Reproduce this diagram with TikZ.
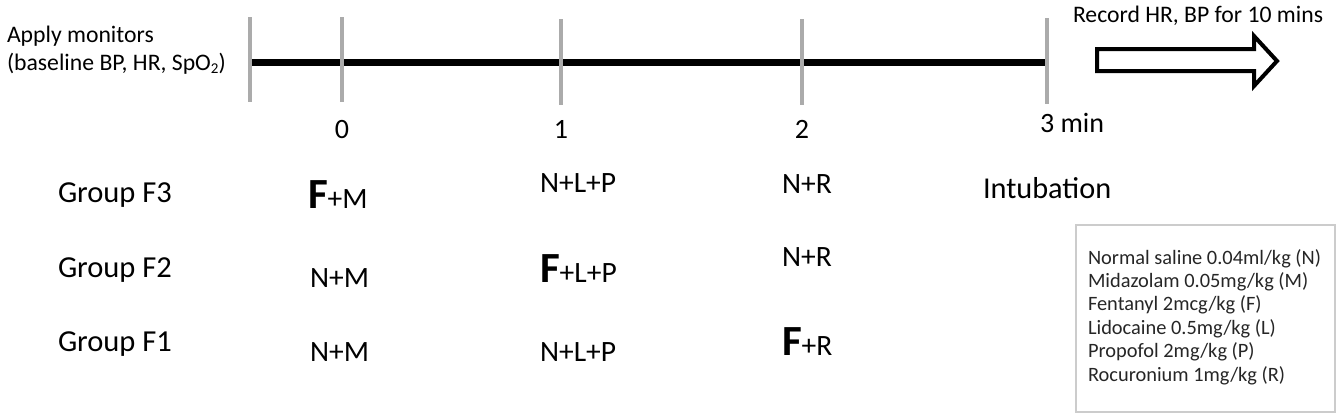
\documentclass[tikz,border=0pt]{standalone}
\usepackage{fontspec}
\setmainfont{Carlito}
\begin{document}
\begin{tikzpicture}[x=1pt,y=-1pt,
  txt/.style={inner sep=0pt, outer sep=0pt, anchor=base west, text=black},
  small/.style={txt, font=\fontsize{23.7}{28}\selectfont},
  digit/.style={txt, font=\fontsize{28}{32}\selectfont},
  big/.style={txt, font=\fontsize{30.5}{34}\selectfont},
  drug/.style={txt, font=\fontsize{29.5}{34}\selectfont},
  boldF/.style={txt, font=\bfseries\fontsize{43}{46}\selectfont},
  legtxt/.style={txt, font=\fontsize{20.4}{23.4}\selectfont, text=black!85},
  tickmark/.style={draw=black!33, line width=4pt},
  axis/.style={draw=black, line width=7pt},
  blockarrow/.style={draw=black, line width=4pt, fill=white, line join=miter}
]
\useasboundingbox (0,0) rectangle (1342,416);

% timeline
\coordinate (a) at (250,62);
\coordinate (b) at (1047,62);
\draw[axis] (a) -- (b);
\draw[tickmark] (250,17) -- (250,102);
\draw[tickmark] (342,17) -- (342,102);
\draw[tickmark] (561,19) -- (561,105);
\draw[tickmark] (802,19) -- (802,105);
\draw[tickmark] (1047,18) -- (1047,104);

% monitor text
\node[small] (apply1) at (7,42) {Apply monitors};
\node[small] (apply2) at (7,70) {(baseline BP, HR, SpO\raisebox{-0.3ex}{\fontsize{15}{15}\selectfont 2})};

% time labels
\node[digit, anchor=base] (m0) at (342,138) {0};
\node[digit, anchor=base] (m1) at (561,138) {1};
\node[digit, anchor=base] (m2) at (802,138) {2};
\node[digit] (m3) at (1040,132) {3 min};

% record arrow
\node[small] (rec) at (1073,22) {Record HR, BP for 10 mins};
\draw[blockarrow] (1097,49) -- (1254,49) -- (1254,36) -- (1277,61) -- (1254,86) -- (1254,71) -- (1097,71) -- cycle;

% groups
\node[big] (g3) at (58,202) {Group F3};
\node[big] (g2) at (58,277) {Group F2};
\node[big] (g1) at (58,351) {Group F1};

% row 1
\node[boldF] (r1c0f) at (308,208) {F};
\node[drug] (r1c0) at (r1c0f.base east) {+M};
\node[drug] (r1c1) at (540,192) {N+L+P};
\node[drug] (r1c2) at (782,193) {N+R};
\node[drug, font=\fontsize{30.3}{34}\selectfont] (intub) at (983,198) {Intubation};

% row 2
\node[drug] (r2c0) at (310,287) {N+M};
\node[boldF] (r2c1f) at (540,282) {F};
\node[drug] (r2c1) at (r2c1f.base east) {+L+P};
\node[drug] (r2c2) at (782,266) {N+R};

% row 3
\node[drug] (r3c0) at (310,361) {N+M};
\node[drug] (r3c1) at (540,361) {N+L+P};
\node[boldF] (r3c2f) at (782,355) {F};
\node[drug] (r3c2) at (r3c2f.base east) {+R};

% legend
\node[draw=black!20, line width=1.5pt, fill=none, minimum width=259pt, minimum height=187pt, inner sep=0pt, anchor=north west] (legend) at (1075,224) {};
\node[legtxt] (l1) at (1088,264) {Normal saline 0.04ml/kg (N)};
\node[legtxt] (l2) at (1088,287.4) {Midazolam 0.05mg/kg (M)};
\node[legtxt] (l3) at (1088,310.8) {Fentanyl 2mcg/kg (F)};
\node[legtxt] (l4) at (1088,334.2) {Lidocaine 0.5mg/kg (L)};
\node[legtxt] (l5) at (1088,357.6) {Propofol 2mg/kg (P)};
\node[legtxt] (l6) at (1088,381) {Rocuronium 1mg/kg (R)};
\end{tikzpicture}
\end{document}
